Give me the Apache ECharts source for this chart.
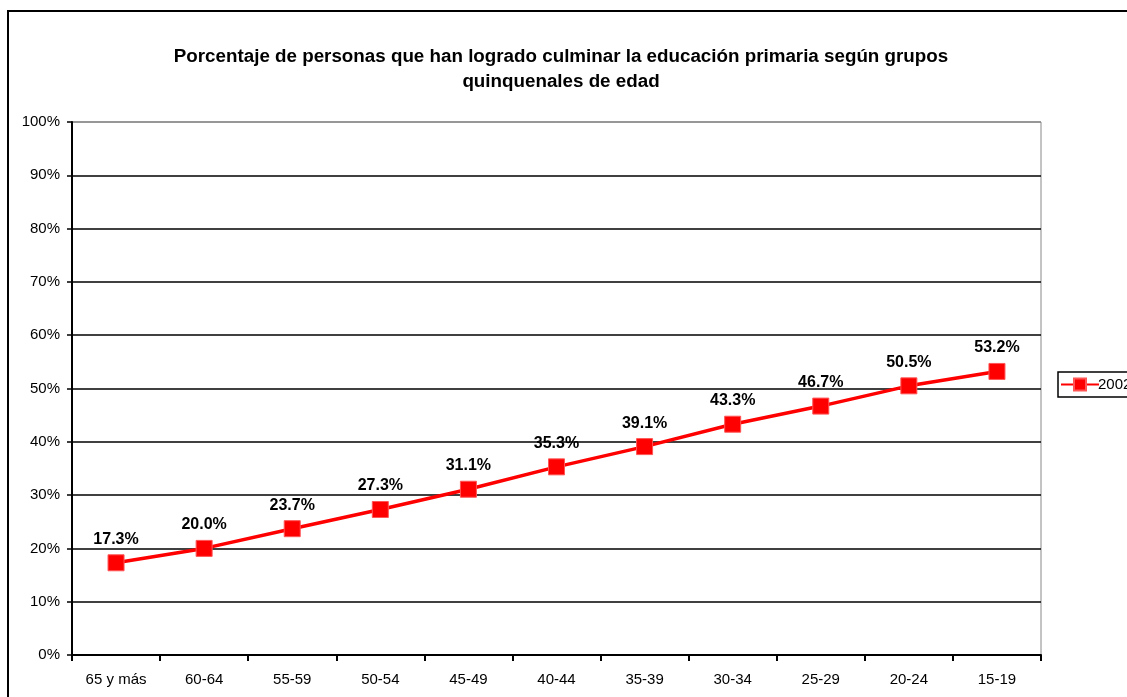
<!DOCTYPE html>
<html><head><meta charset="utf-8">
<script src="https://cdn.jsdelivr.net/npm/echarts@6/dist/echarts.min.js"></script>
<style>html,body{margin:0;padding:0;background:#fff}#c{width:1127px;height:697px}</style>
</head><body><div id="c"></div>
<script>
const categories = ['65 y más','60-64','55-59','50-54','45-49','40-44','35-39','30-34','25-29','20-24','15-19'];
const values2002 = [17.3,20.0,23.7,27.3,31.1,35.3,39.1,43.3,46.7,50.5,53.2];
const seriesName = '2002';
const titleText = 'Porcentaje de personas que han logrado culminar la educación primaria según grupos\nquinquenales de edad';

const chart = echarts.init(document.getElementById('c'), null, {renderer:'canvas'});
const gridColors = ['#000','#000','#000','#000','#000','#000','#000','#000','#000','#000','#888'];
chart.setOption({
  animation:false,
  backgroundColor:'#fff',
  textStyle:{fontFamily:'Liberation Sans, Arial, sans-serif'},
  graphic:[{type:'rect',shape:{x:8,y:11,width:1200,height:800},style:{fill:'none',stroke:'#000',lineWidth:2},z:100}],
  title:{text:titleText,left:556,textAlign:'center',top:39,
    textStyle:{fontSize:18.8,fontWeight:'bold',color:'#000',lineHeight:25,fontFamily:'Liberation Sans, Arial, sans-serif'}},
  legend:{left:1058,top:372,itemWidth:38,itemHeight:15,padding:[5,6,5,2],itemGap:0,
    borderColor:'#000',borderWidth:1.5,
    textStyle:{fontSize:15,color:'#000',padding:[5,0,0,-6]},data:[seriesName]},
  grid:{left:72,right:86,top:122,bottom:42,show:true,borderColor:'#888',borderWidth:1},
  xAxis:{type:'category',data:categories,boundaryGap:true,
    axisLine:{lineStyle:{color:'#000',width:2}},
    axisTick:{show:true,length:6,lineStyle:{color:'#000',width:2}},
    axisLabel:{color:'#000',fontSize:15,margin:17}},
  yAxis:{type:'value',min:0,max:100,interval:10,
    axisLine:{show:true,lineStyle:{color:'#000',width:2}},
    axisTick:{show:true,length:5,lineStyle:{color:'#000',width:1.5}},
    axisLabel:{color:'#000',fontSize:15,formatter:'{value}%',margin:12},
    splitLine:{show:true,lineStyle:{color:gridColors,width:1.5}}},
  series:[{name:seriesName,type:'line',data:values2002,
    symbol:'rect',symbolSize:16,
    lineStyle:{color:'#ff0000',width:3.5},
    itemStyle:{color:'#ff0000',borderColor:'#ff5555',borderWidth:1},
    label:{show:true,position:'top',distance:7,formatter:p=>p.value.toFixed(1)+'%',
      fontSize:16,fontWeight:'bold',color:'#000'}}]
});
</script></body></html>
